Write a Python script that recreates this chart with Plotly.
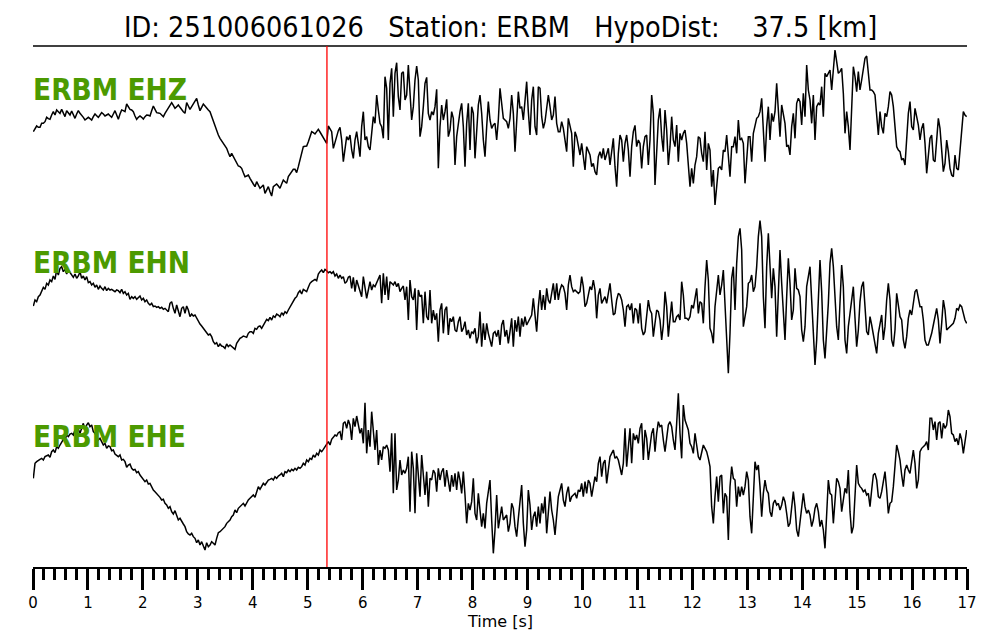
import numpy as np
import plotly.graph_objects as go

# ---- data (amplitudes in arbitrary normalized counts) ----
event_id = "251006061026"
station = "ERBM"
hypo_dist_km = 37.5
p_pick_s = 5.35
t_start = 0.006
t_end = 16.994

ehz = [
 -17,-7,0,-4,-4,8,8,13,26,22, 20,33,43,33,48,43,38,50,38,28,
 46,40,33,45,33,23,36,46,38,33, 26,18,22,26,22,18,28,36,31,26,
 33,40,36,30,33,36,31,26,36,46, 33,20,36,48,46,43,66,58,50,48,
 43,30,20,26,30,26,21,28,33,32, 30,46,60,50,40,39,38,33,28,38,
 46,52,58,70,62,53,58,63,56,48, 43,38,70,60,50,58,66,75,83,63,
 46,56,66,60,53,48,43,28,13,0, -12,-27,-37,-44,-52,-60,-67,-80,-92,-82,
 -92,-102,-112,-120,-122,-127,-140,-152,-150,-147, -157,-167,-174,-182,-167,-177,-187,-182,-177,-202,
 -192,-182,-197,-210,-182,-178,-174,-180,-187,-174, -162,-167,-172,-152,-144,-137,-130,-130,-140,-122,
 -102,-82,-62,-61,-60,-47,-32,-17,-20,-24, -17,-10,-18,-27,-34,-42,-52,0,-8,-17,
 -67,-47,-27,-14,-4,
 -42,-107,-62,-32,-42,-27,-72,-97,-42,-17, -52,-92,-2,43,-42,-32,-62,-72,-22,28,
 8,93,48,8,-2,-37,148,113,-42,128, 173,28,158,190,88,48,158,163,78,93,
 183,88,18,58,138,180,138,-32,-2,58, 128,146,38,18,43,33,58,110,-127,-2,
 63,18,43,80,-32,-12,43,23,-117,-32, 8,43,68,-2,-122,8,68,-72,58,38,
 -97,-2,63,93,38,-42,-92,-2,73,18, -7,3,8,-42,18,113,58,23,18,13,
 -7,23,93,38,-77,8,103,53,58,18, 88,133,43,-27,78,118,-2,-27,118,113,
 28,-7,13,58,93,58,18,33,88,8, -17,-17,13,-7,-42,-77,23,-2,-22,-122,
 -17,-32,-62,-87,-52,-102,-132,-62,-72,-87, -122,-112,-137,-147,-92,-77,-97,-67,-102,-82,
 -67,-117,-72,-37,-122,-182,-82,-27,-42,-107, -52,-27,-72,-152,-62,-17,2,-62,-42,-52,
 -127,-62,-32,-27,-117,-42,
 93,38,-177,-72,18,53,-32,-77,48,-12, -117,-62,28,-42,-62,3,-107,-22,-42,-22,
 -12,-52,-117,-182,-127,-172,-117,-92,-32,-37, -82,-107,-17,-132,-52,-72,-182,-132,-237,-182,
 -127,-122,-132,-72,-77,-27,-87,-152,-62,-62, -32,-82,18,-42,-37,-52,-172,-102,-32,-32,
 -107,-22,3,23,28,43,83,-2,-107,-2, 58,-42,38,13,43,128,58,-32,63,28,
 8,-62,-57,-87,-2,38,-37,68,83,73, 3,98,28,183,108,78,8,93,-42,58,
 68,63,118,28,158,148,158,168,108,178, 228,193,158,163,173,98,-22,43,-2,-72,
 58,178,148,103,163,108,138,178,203,210, 148,108,108,103,93,18,-27,43,-2,-22,
 38,28,58,103,93,58,-2,-62,-72,-77, -102,-97,-117,-42,38,73,-2,-12,53,28,
 3,-42,-7,8,-52,-142,-82,-37,-27,-102, -107,-42,23,-7,-72,-137,-112,-42,-77,-127,
 -147,-152,-87,-127,-132,-72,-32,43,33,28,
]

ehn = [
 -27,-9,-14,1,6,21,29,23,41,36, 51,46,63,53,81,66,86,91,76,83,
 69,81,73,66,59,69,56,63,76,56, 63,51,61,43,46,36,41,29,36,23,
 33,26,21,31,19,26,21,23,19,16, 21,19,13,23,11,16,6,11,-7,1,
 -4,1,-7,-1,3,-9,-4,-14,-9,-19, -24,-19,-29,-27,-31,-29,-34,-31,-37,-34,
 -39,-44,-19,-14,-34,-49,-24,-39,-59,-34, -29,-49,-27,-39,-59,-51,-57,-54,-64,-74,
 -81,-87,-94,-101,-109,-114,-111,-119,-134,-141, -137,-149,-141,-147,-149,-154,-141,-149,-144,-149,
 -154,-157,-139,-129,-124,-121,-117,-119,-121,-109, -104,-104,-109,-94,-97,-89,-87,-94,-84,-79,
 -67,-71,-61,-69,-57,-61,-51,-54,-59,-47, -54,-44,-49,-39,-29,-21,-9,-4,1,13,
 19,9,23,19,16,29,41,46,51,53, 49,69,76,81,73,83,79,73,76,71,
 76,63,69,56,66,
 56,61,41,46,59,63,26,59,16,51, 36,16,1,61,31,-4,21,46,21,36,
 31,41,51,66,-19,71,6,61,-9,46, 41,36,46,31,41,16,26,33,-9,31,
 -69,51,1,-9,26,-99,21,1,6,-79, 16,-59,-69,21,-79,-39,-69,-49,-134,-39,
 -19,-109,-39,-29,-114,-64,-74,-59,-99,-104, -74,-59,-104,-94,-74,-114,-99,-124,-104,-109,
 -94,-139,-119,-44,-149,-79,-129,-79,-109,-129, -149,-109,-104,-119,-99,-144,-84,-69,-119,-99,
 -139,-104,-64,-149,-69,-104,-59,-119,-64,-89, -59,-84,-74,-64,-54,-4,-64,-104,-29,21,
 -39,6,-39,26,-9,-19,11,41,-9,41, -9,21,36,31,11,-39,36,66,31,16,
 21,16,11,16,61,31,-29,-19,11,31, 21,51,21,-64,6,26,-19,-9,1,-19,
 16,41,-9,-54,-49,-9,11,6,-9,-39, -89,-29,-24,-39,-19,-79,-34,-39,-79,-19,
 -94,-114,-104,-49,-9,-39,
 -49,-119,-69,-39,-44,-69,-129,-84,16,-29, -119,-54,-14,-74,-74,-59,-54,-69,46,6,
 -64,-64,-69,-59,-24,-34,-4,26,-49,-14, -19,-79,31,111,51,-94,-109,-139,-29,26,
 66,6,36,81,-9,-139,-229,-109,56,91, -39,101,181,206,141,-89,-59,-29,41,46,
 66,16,31,91,181,229,181,1,-94,91, 191,91,-4,86,31,-119,41,141,41,-29,
 -129,1,116,41,-69,-39,86,26,21,1, -99,-134,-89,31,61,91,-9,-129,-204,-129,
 11,111,16,-129,-184,-109,-19,101,146,91, -19,-89,-129,-9,96,31,-129,-169,-89,-49,
 1,31,-64,-149,-99,-14,31,46,-29,-104, -114,-59,-84,-114,-149,-169,-109,-79,-54,-129,
 -89,-9,41,-9,-129,-149,-99,11,-19,-59, -69,-129,-154,-119,-64,-39,-54,-9,16,23,
 -9,-29,-29,-69,-129,-144,-144,-129,-109,-84, -59,-34,-69,-139,-79,-9,-39,-99,-94,-89,
 -84,-79,-64,-34,-39,-24,-29,-49,-69,-79,
]

ehe = [
 -16,29,34,39,41,44,39,49,51,54, 47,64,69,61,79,74,84,94,101,99,
 114,109,117,119,114,129,121,131,119,134, 149,129,144,151,139,144,124,119,111,99,
 104,94,84,89,74,81,79,67,69,57, 54,49,54,39,41,34,17,24,27,14,
 9,11,1,4,-6,-13,-19,-26,-21,-33, -31,-43,-51,-56,-61,-66,-73,-81,-79,-91,
 -96,-106,-101,-116,-123,-113,-131,-141,-136,-146, -153,-161,-176,-183,-186,-181,-191,-196,-209,-201,
 -216,-206,-221,-231,-209,-221,-216,-206,-211,-216, -196,-179,-176,-171,-166,-161,-151,-146,-141,-131,
 -126,-111,-119,-106,-101,-96,-91,-99,-89,-81, -76,-71,-66,-73,-56,-41,-49,-41,-31,-36,
 -26,-21,-19,-16,-21,-11,-16,-9,-6,-1, -11,4,1,9,4,11,7,14,9,17,
 14,19,29,24,39,34,44,41,54,47, 59,54,69,64,71,79,84,94,84,101,
 107,114,111,121,124,
 99,149,154,134,159,144,99,164,139,171, 149,119,134,89,211,59,129,79,184,114,
 69,129,24,69,39,79,74,84,69,4, 119,-61,119,-51,-21,39,-6,9,-1,14,
 49,-116,64,14,-121,59,-21,-71,54,-6, -66,4,-101,-16,-21,9,-1,-56,14,-21,
 4,14,-41,9,-21,-56,-6,-41,-1,-51, 4,-21,-61,4,-66,-151,-91,-111,-86,-16,
 -121,-141,-61,-116,-161,-121,-166,-91,-61,-21, -141,-241,-171,-66,-166,-131,-101,-141,-131,-126,
 -176,-151,-91,-106,-161,-191,-136,-81,-36,-151, -221,-171,-51,-96,-171,-131,-116,-161,-101,-151,
 -91,-121,-71,-181,-101,-56,-111,-141,-186,-131, -71,-51,-31,-81,-101,-61,-41,-86,-71,-66,
 -61,-76,-51,-56,-31,-71,-26,-61,-21,-31, -71,-41,-11,-26,29,49,-11,29,39,-31,
 14,49,59,69,44,49,39,19,-6,29, 134,19,79,134,29,119,99,114,89,134,
 149,39,129,104,39,79,
 119,134,64,119,154,139,144,99,64,104, 144,154,139,99,69,149,239,119,44,204,
 159,144,129,89,79,59,119,84,49,39, 59,84,74,64,44,19,-101,-151,-71,-11,
 -86,-11,-6,-121,-61,-71,-201,-41,19,-16, -21,-101,-41,-71,-41,-66,-41,4,-21,-131,
 -181,-51,34,9,24,-41,-131,-61,-21,-51, -61,-116,-131,-91,-81,-96,-91,-111,-96,-71,
 -86,-121,-161,-151,-101,-56,-101,-171,-191,-151, -101,-61,-101,-121,-111,-126,-161,-141,-106,-91,
 -116,-161,-141,-171,-226,-101,-21,-61,-66,-151, -71,-16,-26,-46,-116,-71,-46,-61,9,-116,
 -181,-161,-71,24,-31,-41,-46,-56,-51,-66, -61,-101,-51,-6,-1,-21,-71,-76,-56,-21,
 4,-51,-121,-91,-86,-41,19,84,64,39, -6,-41,9,24,9,-1,34,69,29,-46,
 -21,64,74,79,84,94,69,164,164,129, 154,99,149,154,104,149,134,144,189,169,
 119,114,94,104,84,119,99,59,104,129,
]

channels = ["EHZ", "EHN", "EHE"]
traces = [ehz, ehn, ehe]

x_ticks = list(range(0, 18))

# ---- figure ----
W, H = 1000, 640
ml, mr, mt, mb = 33, 33, 46, 73
plot_h = H - mt - mb
centers_px = [126, 297, 473]   # vertical centre of each trace (pixels from top)
cnt_per_px = 3.0

fig = go.Figure()
for i, (ch, vals) in enumerate(zip(channels, traces)):
    t = np.linspace(t_start, t_end, len(vals))
    yname = "y" if i == 0 else f"y{i+1}"
    fig.add_trace(go.Scatter(x=t, y=vals, mode="lines", yaxis=yname,
                             line=dict(color="black", width=1.5),
                             hoverinfo="skip", showlegend=False))

layout_axes = {}
for i, c in enumerate(centers_px):
    top = (c - mt) * cnt_per_px
    rng = [top - plot_h * cnt_per_px, top]
    key = "yaxis" if i == 0 else f"yaxis{i+1}"
    ax = dict(range=rng, visible=False, fixedrange=True, domain=[0, 1])
    if i > 0:
        ax["overlaying"] = "y"
    layout_axes[key] = ax

fig.update_layout(
    width=W, height=H,
    margin=dict(l=ml, r=mr, t=mt, b=mb),
    paper_bgcolor="white", plot_bgcolor="white",
    xaxis=dict(range=[0, 17], tickvals=x_ticks, ticktext=[str(v) for v in x_ticks],
               showline=True, linewidth=2, linecolor="black", mirror=False,
               showgrid=False, zeroline=False, fixedrange=True,
               ticks="outside", ticklen=21, tickwidth=3, tickcolor="black",
               tickfont=dict(family="DejaVu Sans", size=15, color="black"),
               minor=dict(dtick=0.2, tick0=0, ticks="outside", ticklen=11, tickwidth=3,
                          tickcolor="black", showgrid=False)),
    **layout_axes,
)

# title line & red pick line
fig.add_shape(type="line", xref="paper", yref="paper", x0=0, x1=1, y0=1, y1=1,
              line=dict(color="black", width=1.5))
fig.add_shape(type="line", xref="x", yref="paper", x0=p_pick_s, x1=p_pick_s, y0=0, y1=1,
              line=dict(color="red", width=1.3))

nb = "\u00a0"
title = (f"ID: {event_id}{nb*3}Station: {station}{nb*3}HypoDist:{nb*4}{hypo_dist_km:.1f} [km]")
fig.add_annotation(text=title, xref="paper", yref="paper", x=0.5, y=1 + (mt - 27) / plot_h,
                   xanchor="center", yanchor="middle", showarrow=False,
                   font=dict(family="DejaVu Sans Condensed, DejaVu Sans", size=28.5, color="black"))

# x-axis title
fig.add_annotation(text="Time [s]", xref="paper", yref="paper", x=0.5, y=-(621 - mt - plot_h) / plot_h,
                   xanchor="center", yanchor="middle", showarrow=False, borderpad=0,
                   font=dict(family="DejaVu Sans", size=16, color="black"))

label_px = [90, 263, 437]
for ch, ly in zip(channels, label_px):
    fig.add_annotation(text=f"<b>{station} {ch}</b>", xref="paper", yref="paper",
                       x=0, y=1 - (ly - mt) / plot_h, xanchor="left", yanchor="middle",
                       showarrow=False, xshift=-2,
                       font=dict(family="DejaVu Sans Condensed, DejaVu Sans", size=29.5, color="#4C9A00"))

fig.write_html("out.html", config={"displayModeBar": False},
               post_script="document.body.style.margin='0';document.body.style.overflow='hidden';")
